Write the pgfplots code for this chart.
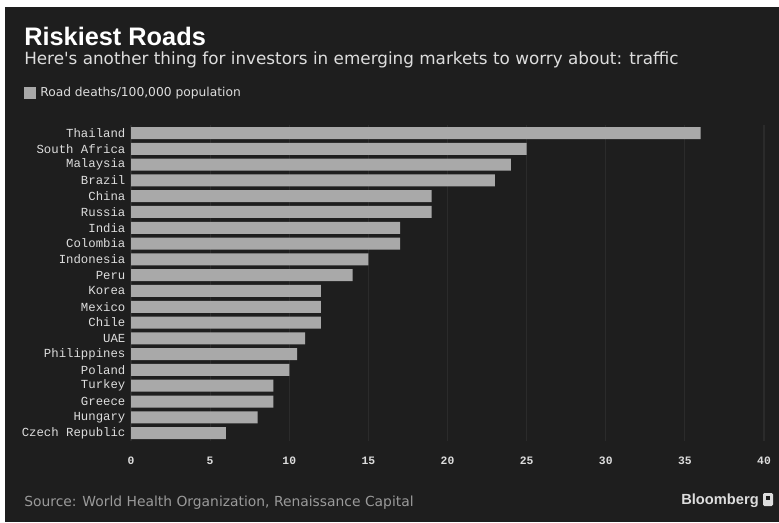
\documentclass[border=0pt]{standalone}
\usepackage{pgfplots}
\pgfplotsset{compat=1.18}
\usepackage{fontspec}
\setmainfont{Liberation Sans}
\newfontfamily\monof{Liberation Mono}
\newfontfamily\dejav{DejaVu Sans}
\definecolor{bg}{HTML}{1E1E1E}
\definecolor{barc}{HTML}{A9A9A9}
\definecolor{gridc}{HTML}{2B2B2B}
\definecolor{lbl}{HTML}{DDDDDD}
\definecolor{src}{HTML}{9A9A9A}
\begin{document}
\begin{tikzpicture}[x=0.75pt,y=0.75pt]
\fill[white] (0,0) rectangle (779,522);
\fill[bg] (5,0) rectangle (779,515);
\node[anchor=base west, text=white, font=\fontsize{19}{22}\selectfont\bfseries, inner sep=0] at (24,476) {Riskiest Roads};
\node[anchor=base west, text=lbl, font=\dejav\fontsize{12.6}{15}\selectfont, inner sep=0] at (24,457) {Here's another thing for investors in emerging markets to worry about: traffic};
\fill[barc] (24,423) rectangle (36,435);
\node[anchor=base west, text=lbl, font=\dejav\fontsize{9.2}{11}\selectfont, inner sep=0] at (40,425) {Road deaths/100,000 population};
\begin{axis}[
  at={(131pt*0.75,81pt*0.75)}, anchor=south west,
  scale only axis, width=474.75pt, height=236.9pt,
  xbar, bar width=9pt,
  xmin=0, xmax=40, ymin=-0.5, ymax=19.5,
  axis line style={draw=none},
  major tick length=0pt,
  xmajorgrids, major grid style={draw=gridc, line width=0.8pt},
  xtick={0,5,...,40},
  ytick={0,...,19},
  yticklabels={Czech Republic,Hungary,Greece,Turkey,Poland,Philippines,UAE,Chile,Mexico,Korea,Peru,Indonesia,Colombia,India,Russia,China,Brazil,Malaysia,South Africa,Thailand},
  yticklabel style={font=\monof\fontsize{9.25}{10}\selectfont, text=lbl, anchor=east, inner sep=0pt, xshift=-4pt},
  xticklabel style={font=\monof\bfseries\fontsize{8.5}{10}\selectfont, text=lbl, anchor=center, inner sep=0pt, yshift=-15pt},
  /pgf/number format/assume math mode=true,
]
\addplot[fill=barc, draw=none] coordinates {
(6,0) (8,1) (9,2) (9,3) (10,4) (10.5,5) (11,6) (12,7) (12,8) (12,9)
(14,10) (15,11) (17,12) (17,13) (19,14) (19,15) (23,16) (24,17) (25,18) (36,19)};
\end{axis}
\node[anchor=base west, text=src, font=\dejav\fontsize{10.4}{12}\selectfont, inner sep=0] at (24,16) {Source: World Health Organization, Renaissance Capital};
\node[anchor=base east, text=lbl, font=\fontsize{11}{13}\selectfont\bfseries, inner sep=0] at (759,18) {Bloomberg};
\fill[rounded corners=1pt, lbl] (763,16) rectangle (773,29);
\fill[bg] (766,22) rectangle (770,26);
\end{tikzpicture}
\end{document}
